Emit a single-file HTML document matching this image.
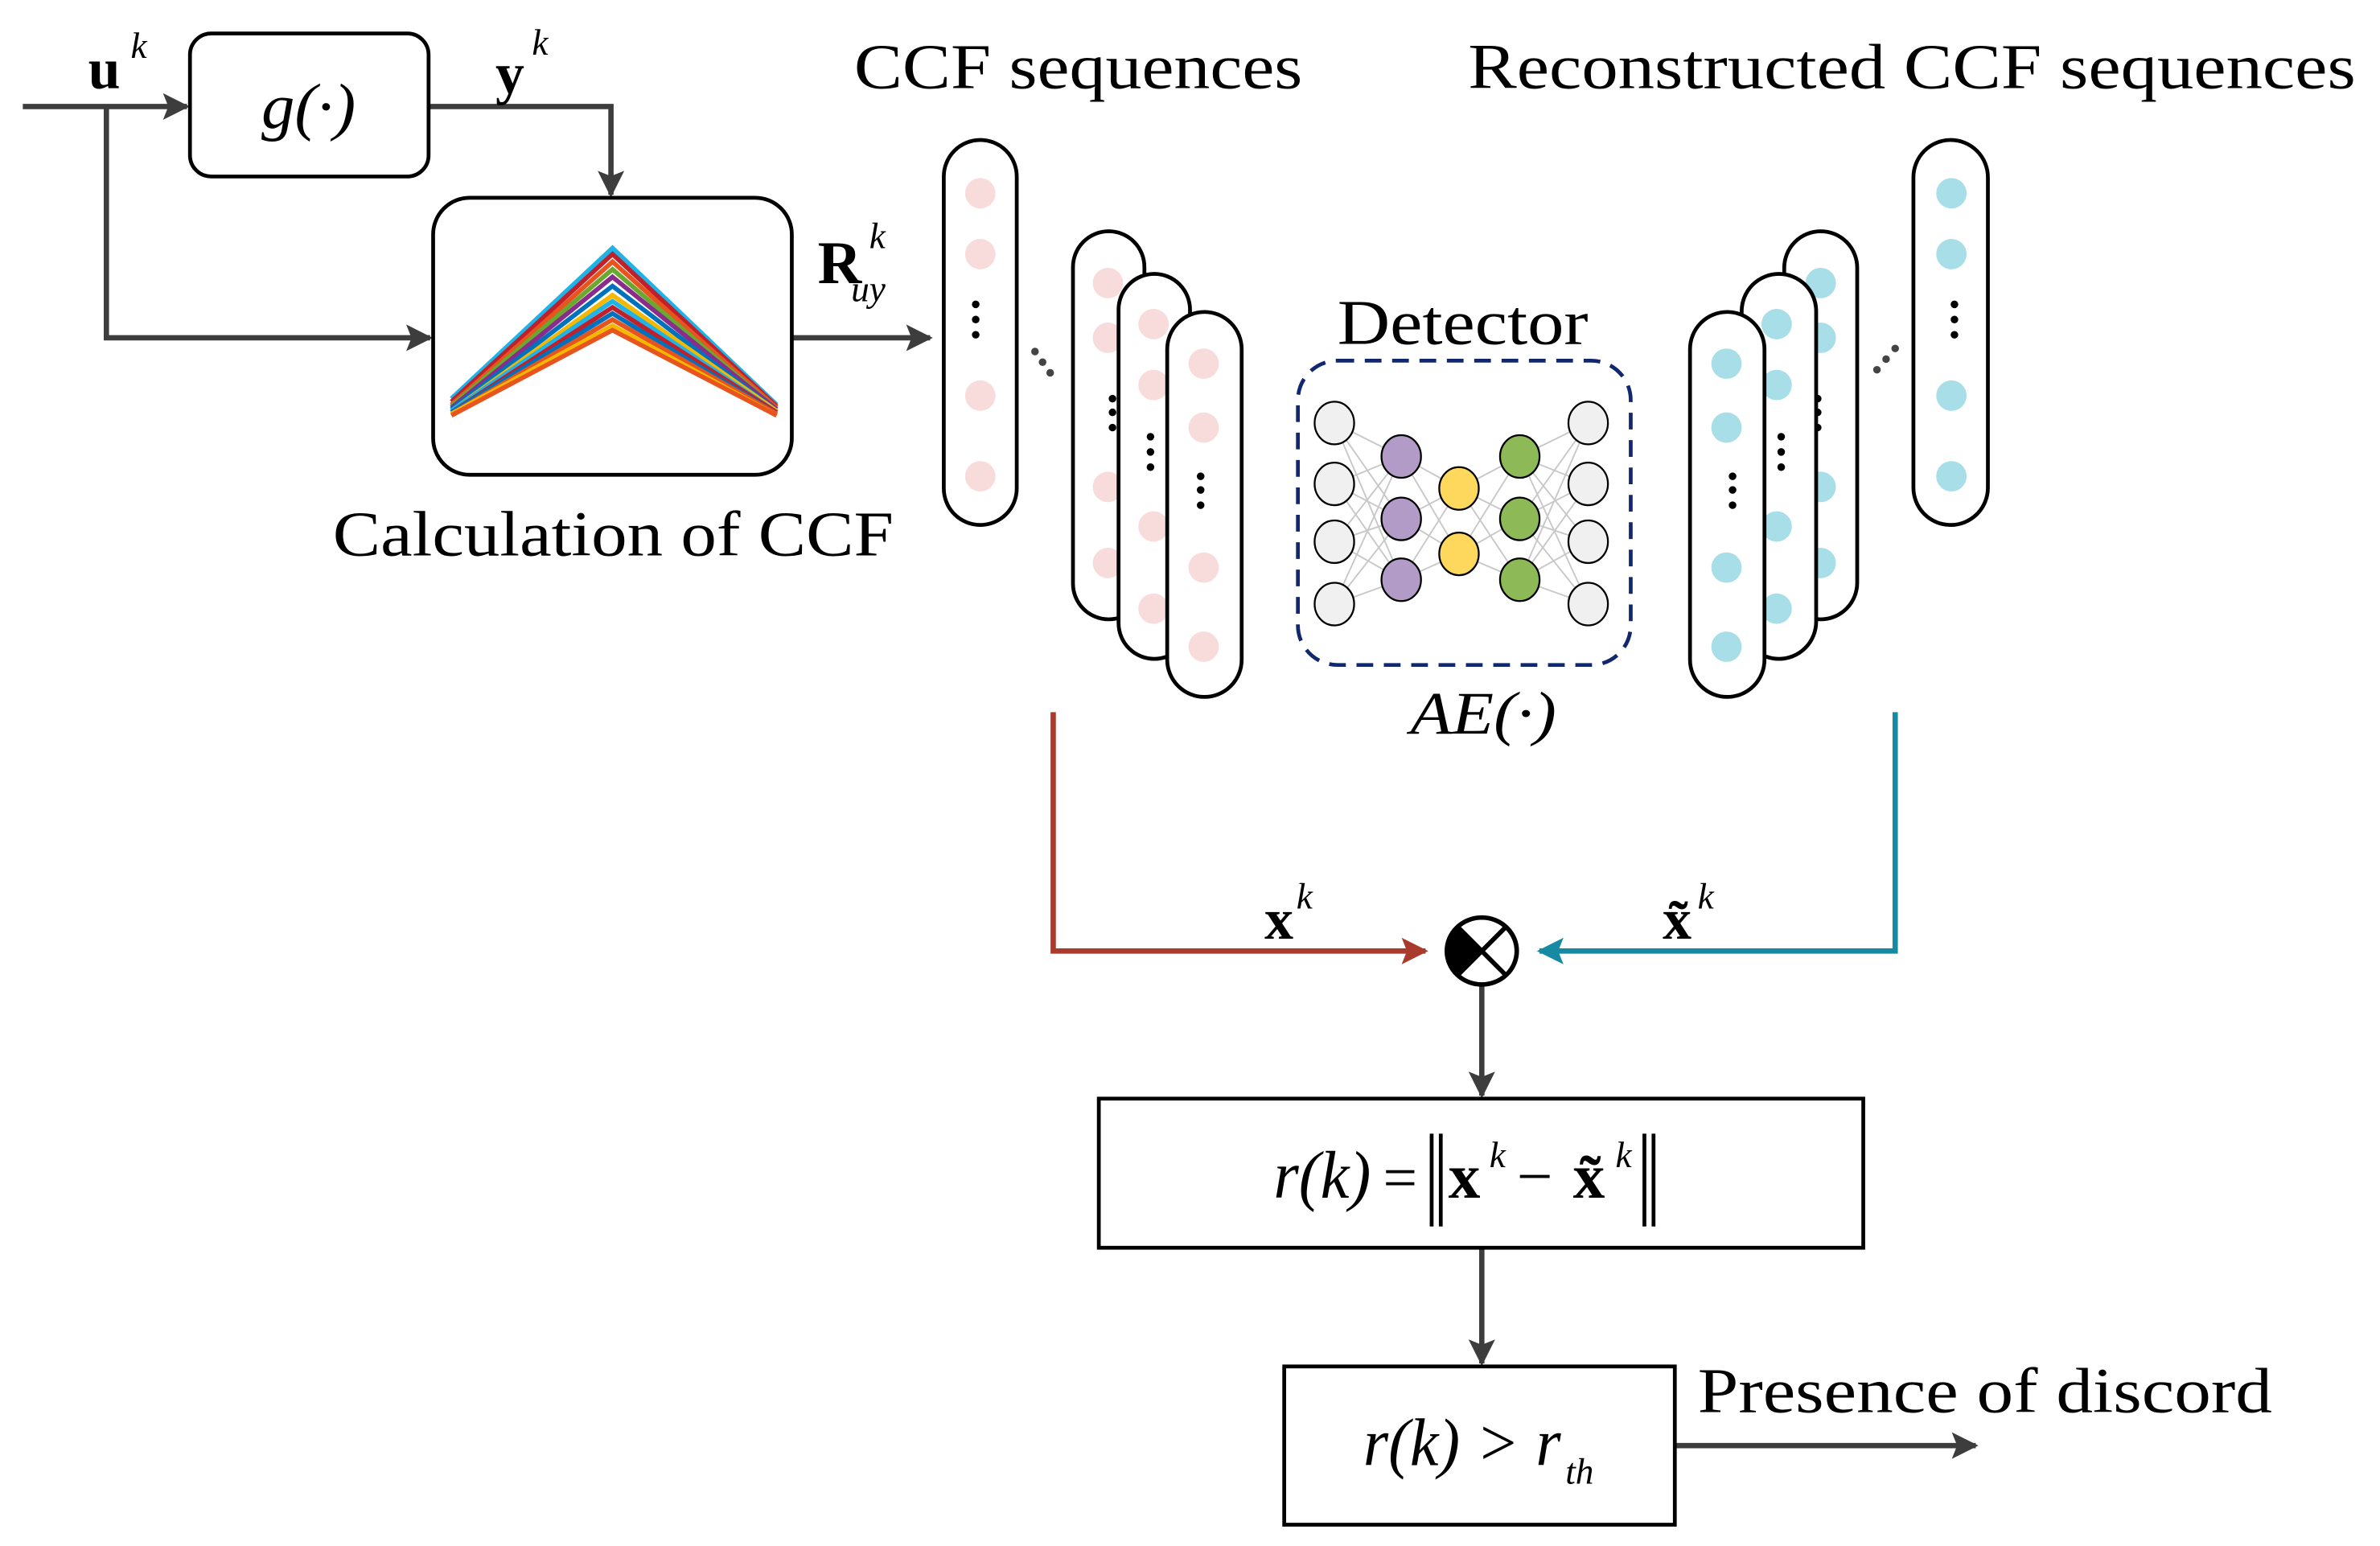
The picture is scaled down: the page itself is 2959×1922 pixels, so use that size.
<!DOCTYPE html>
<html><head><meta charset="utf-8"><style>
html,body{margin:0;padding:0;background:#fff}
svg{display:block}
text{font-family:"Liberation Serif",serif;fill:#000}
</style></head><body>
<svg width="2959" height="1922" viewBox="0 0 1566 1016" preserveAspectRatio="none" xmlns="http://www.w3.org/2000/svg">
<defs>
<marker id="ag" viewBox="0 0 10 10" refX="9" refY="5" markerWidth="5" markerHeight="5" orient="auto" markerUnits="strokeWidth"><path d="M0,0 L10,5 L0,10 L2,5 z" fill="#3d3d3d"/></marker>
<marker id="ar" viewBox="0 0 10 10" refX="9" refY="5" markerWidth="5" markerHeight="5" orient="auto" markerUnits="strokeWidth"><path d="M0,0 L10,5 L0,10 L2,5 z" fill="#a93a2c"/></marker>
<marker id="ab" viewBox="0 0 10 10" refX="9" refY="5" markerWidth="5" markerHeight="5" orient="auto" markerUnits="strokeWidth"><path d="M0,0 L10,5 L0,10 L2,5 z" fill="#168aa3"/></marker>
</defs>
<g stroke="#3d3d3d" stroke-width="3.5" fill="none">
<line x1="15" y1="70" x2="123" y2="70" marker-end="url(#ag)"/>
<polyline points="282,70 402,70 402,128" marker-end="url(#ag)"/>
<polyline points="70,70 70,222 283,222" marker-end="url(#ag)"/>
<line x1="521" y1="222" x2="612" y2="222" marker-end="url(#ag)"/>
<line x1="975" y1="648" x2="975" y2="720" marker-end="url(#ag)"/>
<line x1="975" y1="820" x2="975" y2="896" marker-end="url(#ag)"/>
<line x1="1102" y1="950" x2="1300" y2="950" marker-end="url(#ag)"/>
</g>
<polyline points="693,468 693,625 938,625" stroke="#a93a2c" stroke-width="3.5" fill="none" marker-end="url(#ar)"/>
<polyline points="1247,468 1247,625 1013,625" stroke="#168aa3" stroke-width="3.5" fill="none" marker-end="url(#ab)"/>
<rect x="125" y="22" width="157" height="94" rx="14" fill="#fff" stroke="#000" stroke-width="2.5"/>
<text x="172" y="84" font-size="42" font-style="italic" textLength="62" lengthAdjust="spacingAndGlyphs">g(·)</text>
<rect x="285" y="130" width="236" height="182" rx="24" fill="#fff" stroke="#000" stroke-width="2.5"/>
<g fill="none" stroke-width="3">
<polyline points="297,262 403,163 511,266" stroke="#1fb3e8"/>
<polyline points="297,264 403,167 511,267" stroke="#c0202a"/>
<polyline points="297,266 403,172 511,268" stroke="#e8541e"/>
<polyline points="297,267 403,177 511,269" stroke="#6aa830"/>
<polyline points="297,268 403,182 511,269" stroke="#8a2c8c"/>
<polyline points="297,269 403,188 511,270" stroke="#0072bd"/>
<polyline points="297,270 403,194 511,270" stroke="#f5b800"/>
<polyline points="297,270 403,198 511,271" stroke="#1fb3e8"/>
<polyline points="297,271 403,202 511,271" stroke="#c0202a"/>
<polyline points="297,271 403,206 511,272" stroke="#0072bd"/>
<polyline points="297,272 403,210 511,272" stroke="#e8541e"/>
<polyline points="297,272 403,214 511,273" stroke="#f5b800"/>
<polyline points="297,273 403,217 511,273" stroke="#e8541e"/>
</g>
<g font-size="42">
<text x="219" y="365" textLength="369" lengthAdjust="spacingAndGlyphs">Calculation of CCF</text>
<text x="562" y="58" textLength="295" lengthAdjust="spacingAndGlyphs">CCF sequences</text>
<text x="966" y="58" textLength="584" lengthAdjust="spacingAndGlyphs">Reconstructed CCF sequences</text>
<text x="880" y="226" textLength="165" lengthAdjust="spacingAndGlyphs">Detector</text>
<text x="1117" y="928" textLength="378" lengthAdjust="spacingAndGlyphs">Presence of discord</text>
</g>
<text x="928" y="482" font-size="40" font-style="italic" textLength="96" lengthAdjust="spacingAndGlyphs">AE(·)</text>
<text x="58" y="58" font-size="38" font-weight="bold">u</text><text x="86" y="38" font-size="24" font-style="italic">k</text>
<text x="326" y="61" font-size="38" font-weight="bold">y</text><text x="350" y="36" font-size="24" font-style="italic">k</text>
<text x="538" y="186" font-size="40" font-weight="bold">R</text><text x="572" y="163" font-size="24" font-style="italic">k</text><text x="560" y="198" font-size="24" font-style="italic">uy</text>
<text x="832" y="617" font-size="38" font-weight="bold">x</text><text x="853" y="597" font-size="24" font-style="italic">k</text>
<text x="1094" y="617" font-size="38" font-weight="bold">x̃</text><text x="1117" y="597" font-size="24" font-style="italic">k</text>
<!-- left pill -->
<rect x="621" y="92" width="48" height="253" rx="24" fill="#fff" stroke="#000" stroke-width="2.5"/>
<g fill="#f8dcdc">
<circle cx="645" cy="127" r="10"/><circle cx="645" cy="167" r="10"/><circle cx="645" cy="260" r="10"/><circle cx="645" cy="313" r="10"/>
</g>
<g fill="#000"><circle cx="642" cy="200" r="2.5"/><circle cx="642" cy="210" r="2.5"/><circle cx="642" cy="220" r="2.5"/></g>
<g fill="#444"><circle cx="681" cy="231" r="2.5"/><circle cx="686" cy="238" r="2.5"/><circle cx="691" cy="245" r="2.5"/></g>
<!-- left stack -->
<rect x="706" y="152" width="47" height="255" rx="23.5" fill="#fff" stroke="#000" stroke-width="2.5"/>
<g fill="#f8dcdc"><circle cx="729" cy="186" r="10"/><circle cx="729" cy="222" r="10"/><circle cx="729" cy="320" r="10"/><circle cx="729" cy="370" r="10"/></g>
<g fill="#000"><circle cx="732" cy="262" r="2.5"/><circle cx="732" cy="271" r="2.5"/><circle cx="732" cy="281" r="2.5"/></g>
<rect x="736" y="180" width="47" height="253" rx="23.5" fill="#fff" stroke="#000" stroke-width="2.5"/>
<g fill="#f8dcdc"><circle cx="759" cy="213" r="10"/><circle cx="759" cy="253" r="10"/><circle cx="759" cy="346" r="10"/><circle cx="759" cy="400" r="10"/></g>
<g fill="#000"><circle cx="757" cy="287" r="2.5"/><circle cx="757" cy="297" r="2.5"/><circle cx="757" cy="307" r="2.5"/></g>
<rect x="768" y="205" width="49" height="253" rx="24.5" fill="#fff" stroke="#000" stroke-width="2.5"/>
<g fill="#f8dcdc"><circle cx="792" cy="239" r="10"/><circle cx="792" cy="281" r="10"/><circle cx="792" cy="373" r="10"/><circle cx="792" cy="425" r="10"/></g>
<g fill="#000"><circle cx="790" cy="313" r="2.5"/><circle cx="790" cy="322" r="2.5"/><circle cx="790" cy="332" r="2.5"/></g>
<!-- right pill -->
<rect x="1259" y="92" width="49" height="253" rx="24.5" fill="#fff" stroke="#000" stroke-width="2.5"/>
<g fill="#a8dee8"><circle cx="1284" cy="127" r="10"/><circle cx="1284" cy="167" r="10"/><circle cx="1284" cy="260" r="10"/><circle cx="1284" cy="313" r="10"/></g>
<g fill="#000"><circle cx="1286" cy="200" r="2.5"/><circle cx="1286" cy="210" r="2.5"/><circle cx="1286" cy="220" r="2.5"/></g>
<g fill="#444"><circle cx="1247" cy="229" r="2.5"/><circle cx="1241" cy="236" r="2.5"/><circle cx="1235" cy="243" r="2.5"/></g>
<!-- right stack -->
<rect x="1174" y="152" width="48" height="255" rx="24" fill="#fff" stroke="#000" stroke-width="2.5"/>
<g fill="#a8dee8"><circle cx="1198" cy="186" r="10"/><circle cx="1198" cy="222" r="10"/><circle cx="1198" cy="320" r="10"/><circle cx="1198" cy="370" r="10"/></g>
<g fill="#000"><circle cx="1196" cy="262" r="2.5"/><circle cx="1196" cy="271" r="2.5"/><circle cx="1196" cy="281" r="2.5"/></g>
<rect x="1146" y="180" width="49" height="253" rx="24.5" fill="#fff" stroke="#000" stroke-width="2.5"/>
<g fill="#a8dee8"><circle cx="1169" cy="213" r="10"/><circle cx="1169" cy="253" r="10"/><circle cx="1169" cy="346" r="10"/><circle cx="1169" cy="400" r="10"/></g>
<g fill="#000"><circle cx="1172" cy="287" r="2.5"/><circle cx="1172" cy="297" r="2.5"/><circle cx="1172" cy="307" r="2.5"/></g>
<rect x="1112" y="205" width="49" height="253" rx="24.5" fill="#fff" stroke="#000" stroke-width="2.5"/>
<g fill="#a8dee8"><circle cx="1136" cy="239" r="10"/><circle cx="1136" cy="281" r="10"/><circle cx="1136" cy="373" r="10"/><circle cx="1136" cy="425" r="10"/></g>
<g fill="#000"><circle cx="1140" cy="313" r="2.5"/><circle cx="1140" cy="322" r="2.5"/><circle cx="1140" cy="332" r="2.5"/></g>
<!-- detector -->
<rect x="854" y="237" width="219" height="200" rx="26" fill="none" stroke="#12286e" stroke-width="2.5" stroke-dasharray="11,7"/>
<g stroke="#c8c8c8" stroke-width="1">
<path d="M878,278L922,300M878,278L922,341M878,278L922,381M878,318L922,300M878,318L922,341M878,318L922,381M878,356L922,300M878,356L922,341M878,356L922,381M878,397L922,300M878,397L922,341M878,397L922,381"/>
<path d="M922,300L960,321M922,300L960,364M922,341L960,321M922,341L960,364M922,381L960,321M922,381L960,364"/>
<path d="M960,321L1000,300M960,321L1000,341M960,321L1000,381M960,364L1000,300M960,364L1000,341M960,364L1000,381"/>
<path d="M1000,300L1045,278M1000,300L1045,318M1000,300L1045,356M1000,300L1045,397M1000,341L1045,278M1000,341L1045,318M1000,341L1045,356M1000,341L1045,397M1000,381L1045,278M1000,381L1045,318M1000,381L1045,356M1000,381L1045,397"/>
</g>
<g stroke="#000" stroke-width="1.2">
<g fill="#f0f0f0"><ellipse cx="878" cy="278" rx="13" ry="14"/><ellipse cx="878" cy="318" rx="13" ry="14"/><ellipse cx="878" cy="356" rx="13" ry="14"/><ellipse cx="878" cy="397" rx="13" ry="14"/>
<ellipse cx="1045" cy="278" rx="13" ry="14"/><ellipse cx="1045" cy="318" rx="13" ry="14"/><ellipse cx="1045" cy="356" rx="13" ry="14"/><ellipse cx="1045" cy="397" rx="13" ry="14"/></g>
<g fill="#b29cc7"><ellipse cx="922" cy="300" rx="13" ry="14"/><ellipse cx="922" cy="341" rx="13" ry="14"/><ellipse cx="922" cy="381" rx="13" ry="14"/></g>
<g fill="#fdd85d"><ellipse cx="960" cy="321" rx="13" ry="14"/><ellipse cx="960" cy="364" rx="13" ry="14"/></g>
<g fill="#8dba57"><ellipse cx="1000" cy="300" rx="13" ry="14"/><ellipse cx="1000" cy="341" rx="13" ry="14"/><ellipse cx="1000" cy="381" rx="13" ry="14"/></g>
</g>
<!-- multiplier -->
<ellipse cx="975" cy="625" rx="23" ry="22" fill="#fff" stroke="#000" stroke-width="3"/>
<path d="M975,625 L959,609 A23,22 0 0,0 959,641 Z" fill="#000"/>
<path d="M959,609 L991,641 M991,609 L959,641" stroke="#000" stroke-width="3"/>
<!-- boxes -->
<rect x="723" y="722" width="503" height="98" fill="#fff" stroke="#000" stroke-width="2.5"/>
<text x="838" y="787" font-size="44" font-style="italic" textLength="64" lengthAdjust="spacingAndGlyphs">r(k)</text>
<text x="910" y="787" font-size="40">=</text>
<path d="M942,745V806M948,745V806M1082,745V806M1088,745V806" stroke="#000" stroke-width="2.5"/>
<text x="953" y="787" font-size="42" font-weight="bold">x</text><text x="980" y="767" font-size="24" font-style="italic">k</text>
<text x="998" y="787" font-size="42">−</text>
<text x="1035" y="787" font-size="42" font-weight="bold">x̃</text><text x="1063" y="767" font-size="24" font-style="italic">k</text>
<rect x="845" y="898" width="257" height="104" fill="#fff" stroke="#000" stroke-width="2.5"/>
<text x="897" y="963" font-size="44" font-style="italic" textLength="130" lengthAdjust="spacingAndGlyphs">r(k) &gt; r</text>
<text x="1030" y="975" font-size="24" font-style="italic">th</text>
</svg>
</body></html>
